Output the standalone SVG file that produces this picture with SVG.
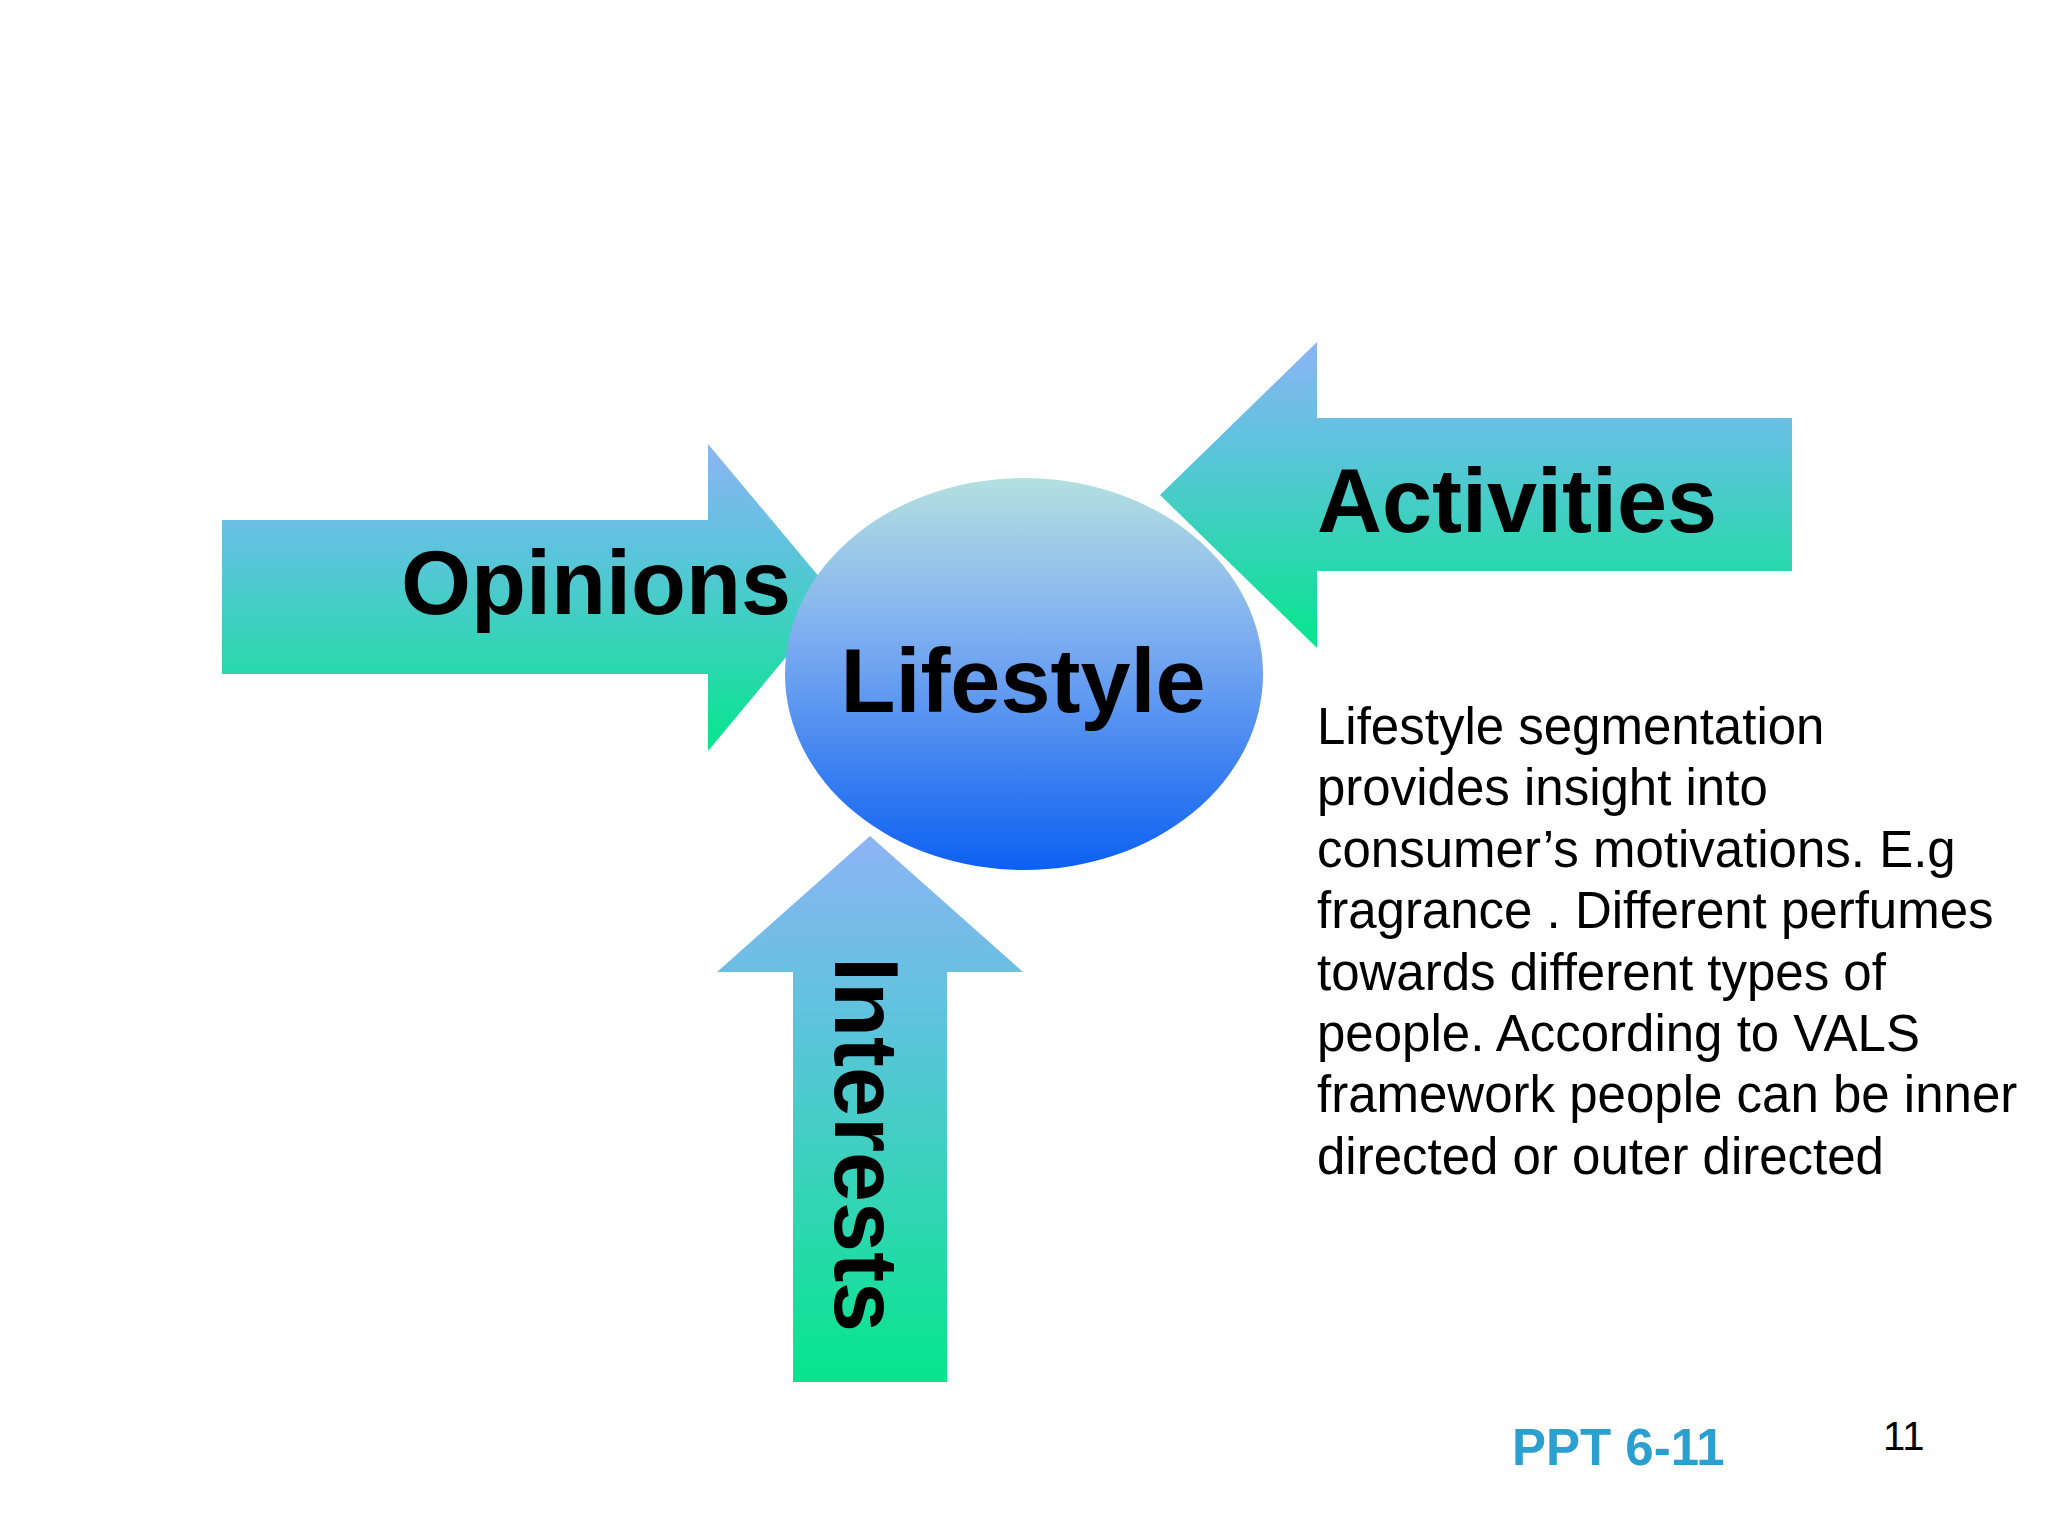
<svg xmlns="http://www.w3.org/2000/svg" width="2048" height="1536" viewBox="0 0 2048 1536">
<defs>
<linearGradient id="ga" x1="0" y1="0" x2="0" y2="1"><stop offset="0" stop-color="#8db4f4"/><stop offset="0.35" stop-color="#5cc4dc"/><stop offset="1" stop-color="#06e68c"/></linearGradient>
<linearGradient id="ge" x1="0" y1="0" x2="0" y2="1"><stop offset="0" stop-color="#b4e0e0"/><stop offset="0.4" stop-color="#7eaef0"/><stop offset="1" stop-color="#0c60f2"/></linearGradient>
<style>.b{font-family:"Liberation Sans",Arial,sans-serif;font-weight:bold;font-size:90px;fill:#000}.t{font-family:"Liberation Sans",Arial,sans-serif;font-size:51px;fill:#000}</style>
</defs>
<rect width="2048" height="1536" fill="#fff"/>
<g id="opinions"><polygon points="222,520 708,520 708,444 836,597 708,751 708,674 222,674" fill="url(#ga)"/><text class="b" x="401" y="614">Opinions</text></g>
<g id="activities"><polygon points="1792,418 1317,418 1317,342 1160,495 1317,648 1317,571 1792,571" fill="url(#ga)"/><text class="b" x="1317" y="532">Activities</text></g>
<g id="interests"><polygon points="793,1382 793,972 717,972 870,836 1023,972 947,972 947,1382" fill="url(#ga)"/><text class="b" transform="translate(835,957) rotate(90)">Interests</text></g>
<g id="lifestyle"><ellipse cx="1024" cy="674" rx="239" ry="196" fill="url(#ge)"/><text class="b" x="1023" y="712" text-anchor="middle">Lifestyle</text></g>
<g id="connectors"/>
<g id="body">
<text class="t" x="1317" y="744">Lifestyle segmentation</text>
<text class="t" x="1317" y="805">provides insight into</text>
<text class="t" x="1317" y="867">consumer’s motivations. E.g</text>
<text class="t" x="1317" y="928">fragrance . Different perfumes</text>
<text class="t" x="1317" y="990">towards different types of</text>
<text class="t" x="1317" y="1051">people. According to VALS</text>
<text class="t" x="1317" y="1112">framework people can be inner</text>
<text class="t" x="1317" y="1174">directed or outer directed</text>
</g>
<text x="1512" y="1465" font-family="Liberation Sans,Arial,sans-serif" font-weight="bold" font-size="51" fill="#2a9fd0">PPT 6-11</text>
<text x="1883" y="1450" font-family="Liberation Sans,Arial,sans-serif" font-size="40" fill="#000">11</text>
</svg>
